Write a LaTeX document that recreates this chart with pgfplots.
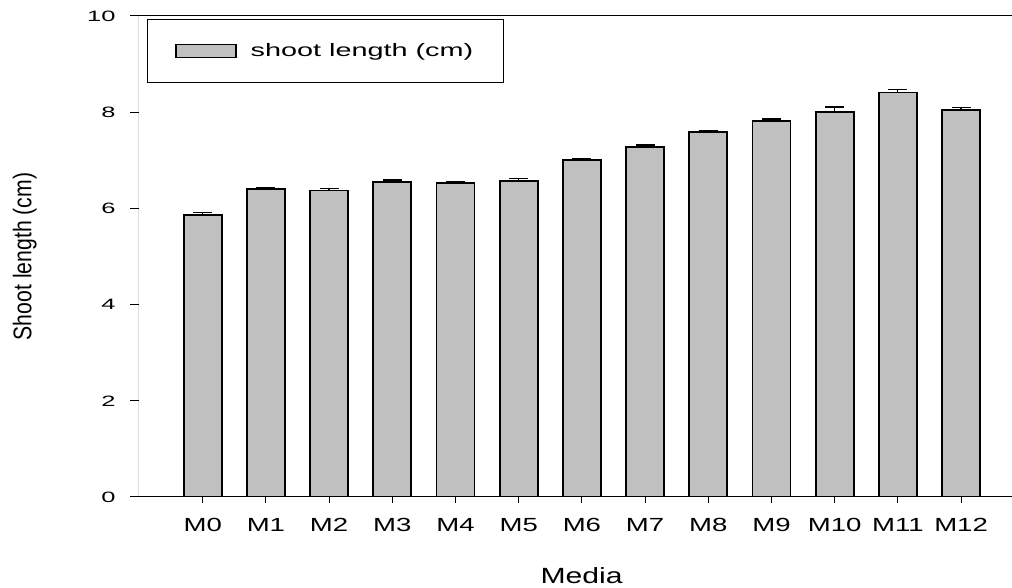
\documentclass[border=0pt]{standalone}
\usepackage{fontspec}
\setmainfont{Liberation Sans}
\usepackage{pgfplots}
\usepackage{pgfplotstable}
\pgfplotsset{compat=1.18}
\definecolor{barfill}{RGB}{192,192,192}
\newcommand{\xt}[1]{\scalebox{1.45}[1]{#1}}
\pgfplotstableread{
x y e
0 5.86 0.05
1 6.40 0.04
2 6.37 0.05
3 6.55 0.04
4 6.53 0.03
5 6.57 0.05
6 7.01 0.03
7 7.28 0.04
8 7.59 0.03
9 7.82 0.04
10 8.01 0.10
11 8.41 0.06
12 8.05 0.04
}\datatable
\begin{document}
\begin{tikzpicture}
\begin{axis}[
  scale only axis, width=873pt, height=481pt,
  xmin=-1.008, xmax=12.806, ymin=0, ymax=10,
  separate axis lines, axis line style={draw=none},
  ybar, bar width=38pt,
  xtick={0,...,12},
  xticklabels={\xt{M0},\xt{M1},\xt{M2},\xt{M3},\xt{M4},\xt{M5},\xt{M6},\xt{M7},\xt{M8},\xt{M9},\xt{M10},\xt{M11},\xt{M12}},
  ytick={0,2,...,10},
  yticklabel={\scalebox{1.7}[1]{\pgfmathprintnumber[assume math mode=true]{\tick}}},
  xtick pos=left, ytick pos=left,
  tick align=outside,
  major tick length=9pt,
  xtick style={/pgfplots/major tick length=6pt, line width=1pt, black},
  ytick style={line width=1pt, black},
  yticklabel style={font=\fontsize{15}{18}\selectfont, xshift=-11pt},
  xticklabel style={font=\fontsize{19}{22}\selectfont, yshift=-9pt},
  xlabel={\scalebox{1.37}[1]{Media}},
  xlabel style={font=\fontsize{22}{26}\selectfont, at={(axis description cs:0.507,-0.164)}, anchor=center},
  ylabel={\scalebox{1.06}[1.28]{Shoot length (cm)}},
  ylabel style={font=\fontsize{20}{24}\selectfont, at={(axis description cs:-0.131,0.5)}, anchor=center},
  legend style={at={(axis description cs:0,1)}, anchor=north west, xshift=8pt, yshift=-3pt,
    draw=black, line width=1pt, inner xsep=28pt, inner ysep=22pt,
    nodes={inner sep=2pt}, font=\fontsize{18}{21}\selectfont,
    /tikz/every odd column/.append style={column sep=12pt}},
]
\addplot[fill=barfill, draw=black, line width=1.8pt,
  legend image code/.code={\draw[##1, line width=1.2pt] (0pt,-6.5pt) rectangle (60pt,6.5pt);},
  error bars/.cd, y dir=plus, y explicit,
  error bar style={line width=1.2pt, black},
  error mark options={black, line width=1.2pt, mark size=9.5pt, rotate=90}]
  table[x=x, y=y, y error=e] {\datatable};
\addlegendentry{\scalebox{1.6}[1]{shoot length (cm)}}
\draw[line width=1pt] (axis description cs:0,0) -- (axis description cs:1,0);
\draw[line width=1pt] (axis description cs:0,1) -- (axis description cs:1,1);
\draw[line width=1pt] (axis description cs:0,0) -- (axis description cs:0,1);
\end{axis}
\pgfresetboundingbox
\path[use as bounding box] ([xshift=-139pt,yshift=-91pt]current axis.south west) rectangle ([yshift=16pt]current axis.north east);
\end{tikzpicture}
\end{document}
